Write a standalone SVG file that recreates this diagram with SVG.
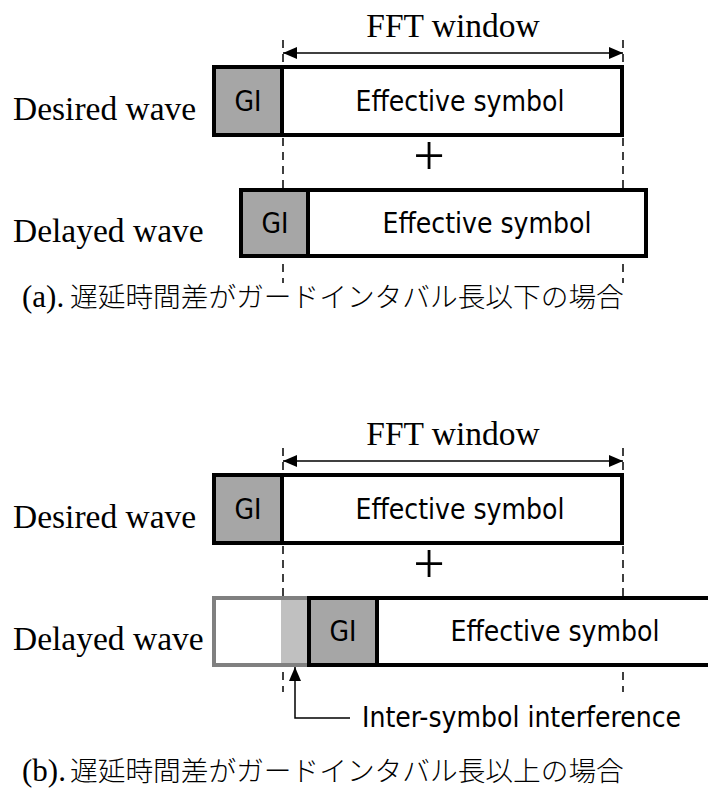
<svg xmlns="http://www.w3.org/2000/svg" width="708" height="792" viewBox="0 0 708 792">
  <style>
    .serif { font-family: "Liberation Serif", "Times New Roman", serif; fill: #000; }
    .label { font-size: 33.5px; }
    .box-text { font-family: "DejaVu Sans Condensed", "DejaVu Sans", sans-serif; font-stretch: condensed; font-size: 28px; fill: #000; }
    .mid { text-anchor: middle; }
    .caption { font-family: "Liberation Serif", "Noto Sans CJK JP", serif; font-size: 31px; fill: #000; }
    .cjk { font-family: "Noto Sans CJK JP", sans-serif; font-size: 27.7px; font-weight: 300; }
    .frame { fill: #fff; stroke: #000; stroke-width: 4; }
    .gi { fill: #a6a6a6; stroke: #000; stroke-width: 4; }
    .guide { stroke: #000; stroke-width: 1.5; stroke-dasharray: 8 6; fill: none; }
    .dim { stroke: #000; stroke-width: 1.5; fill: none; }
  </style>
  <defs>
    <marker id="arrow-head" viewBox="0 0 14 12" refX="14" refY="6" markerWidth="14" markerHeight="12" markerUnits="userSpaceOnUse" orient="auto-start-reverse">
      <path d="M0,0 L14,6 L0,12 Z" fill="#000"/>
    </marker>
  </defs>
  <rect width="708" height="792" fill="#fff"/>

  <!-- connectors: FFT window spans, guide lines, ISI pointer (drawn under the symbol boxes) -->
  <g id="connectors">
    <line class="guide" x1="283" y1="40" x2="283" y2="283"/>
    <line class="guide" x1="623" y1="40" x2="623" y2="283"/>
    <line class="dim" x1="283" y1="53" x2="623" y2="53" marker-start="url(#arrow-head)" marker-end="url(#arrow-head)"/>
    <line class="guide" x1="283" y1="448" x2="283" y2="692"/>
    <line class="guide" x1="623" y1="448" x2="623" y2="692"/>
    <line class="dim" x1="283" y1="461" x2="623" y2="461" marker-start="url(#arrow-head)" marker-end="url(#arrow-head)"/>
    <polyline class="dim" points="350,718 295,718 295,667" marker-end="url(#arrow-head)"/>
  </g>

  <!-- (a) delay within guard interval -->
  <g id="fft-window-a">
    <text class="serif label mid" x="453" y="37">FFT window</text>
  </g>
  <g id="desired-a">
    <text class="serif label" x="13" y="120">Desired wave</text>
    <rect class="frame" x="214" y="67" width="408" height="68"/>
    <rect class="gi" x="214" y="67" width="68" height="68"/>
    <text class="box-text mid" x="248" y="111">GI</text>
    <text class="box-text mid" x="460" y="111">Effective symbol</text>
  </g>
  <g id="plus-a">
    <text class="serif mid" x="429" y="175" font-size="56">+</text>
  </g>
  <g id="delayed-a">
    <text class="serif label" x="13" y="242">Delayed wave</text>
    <rect class="frame" x="241" y="190" width="405" height="66"/>
    <rect class="gi" x="241" y="190" width="67" height="66"/>
    <text class="box-text mid" x="275" y="233">GI</text>
    <text class="box-text mid" x="487" y="233">Effective symbol</text>
  </g>
  <g id="caption-a">
    <text class="caption" x="22" y="307">(a).<tspan class="cjk" x="70">遅延時間差がガードインタバル長以下の場合</tspan></text>
  </g>

  <!-- (b) delay beyond guard interval -->
  <g id="fft-window-b">
    <text class="serif label mid" x="453" y="445">FFT window</text>
  </g>
  <g id="desired-b">
    <text class="serif label" x="13" y="528">Desired wave</text>
    <rect class="frame" x="214" y="475" width="408" height="68"/>
    <rect class="gi" x="214" y="475" width="68" height="68"/>
    <text class="box-text mid" x="248" y="519">GI</text>
    <text class="box-text mid" x="460" y="519">Effective symbol</text>
  </g>
  <g id="plus-b">
    <text class="serif mid" x="429" y="583" font-size="56">+</text>
  </g>
  <g id="delayed-b">
    <text class="serif label" x="13" y="650">Delayed wave</text>
    <!-- tail of the previous symbol -->
    <rect x="214" y="598" width="93" height="67" fill="#fff" stroke="#808080" stroke-width="4"/>
    <rect x="281" y="600" width="26" height="63" fill="#c0c0c0"/>
    <rect class="frame" x="309" y="598" width="420" height="67"/>
    <rect class="gi" x="309" y="598" width="68" height="67"/>
    <text class="box-text mid" x="343" y="641">GI</text>
    <text class="box-text mid" x="555" y="641">Effective symbol</text>
  </g>
  <g id="isi-label">
    <text class="box-text" x="362" y="727">Inter-symbol interference</text>
  </g>
  <g id="caption-b">
    <text class="caption" x="22" y="781">(b).<tspan class="cjk" x="70">遅延時間差がガードインタバル長以上の場合</tspan></text>
  </g>
</svg>
